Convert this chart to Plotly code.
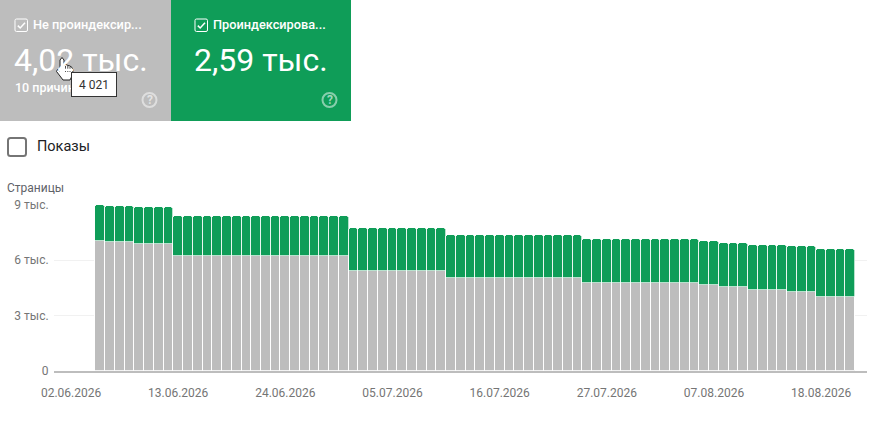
import plotly.graph_objects as go

W = 886
H = 423

days = [
    "2026-06-05", "2026-06-06", "2026-06-07", "2026-06-08", "2026-06-09", "2026-06-10", "2026-06-11",
    "2026-06-12", "2026-06-13", "2026-06-14", "2026-06-15", "2026-06-16", "2026-06-17", "2026-06-18",
    "2026-06-19", "2026-06-20", "2026-06-21", "2026-06-22", "2026-06-23", "2026-06-24", "2026-06-25",
    "2026-06-26", "2026-06-27", "2026-06-28", "2026-06-29", "2026-06-30", "2026-07-01", "2026-07-02",
    "2026-07-03", "2026-07-04", "2026-07-05", "2026-07-06", "2026-07-07", "2026-07-08", "2026-07-09",
    "2026-07-10", "2026-07-11", "2026-07-12", "2026-07-13", "2026-07-14", "2026-07-15", "2026-07-16",
    "2026-07-17", "2026-07-18", "2026-07-19", "2026-07-20", "2026-07-21", "2026-07-22", "2026-07-23",
    "2026-07-24", "2026-07-25", "2026-07-26", "2026-07-27", "2026-07-28", "2026-07-29", "2026-07-30",
    "2026-07-31", "2026-08-01", "2026-08-02", "2026-08-03", "2026-08-04", "2026-08-05", "2026-08-06",
    "2026-08-07", "2026-08-08", "2026-08-09", "2026-08-10", "2026-08-11", "2026-08-12", "2026-08-13",
    "2026-08-14", "2026-08-15", "2026-08-16", "2026-08-17", "2026-08-18", "2026-08-19", "2026-08-20",
    "2026-08-21",
]
not_indexed = [
    7030, 6970, 6970, 6970, 6870, 6870, 6870, 6870,
    6230, 6230, 6230, 6230, 6230, 6230, 6230, 6230, 6230,
    6230, 6230, 6230, 6230, 6230, 6230, 6230, 6230, 6230,
    5400, 5400, 5400, 5400, 5400, 5400, 5400, 5400, 5400, 5400,
    5020, 5020, 5020, 5020, 5020, 5020, 5020, 5020, 5020, 5020, 5020, 5020, 5020, 5020,
    4750, 4750, 4750, 4750, 4750, 4750, 4750, 4750, 4750, 4750, 4750, 4750,
    4640, 4640, 4530, 4530, 4530, 4370, 4370, 4370, 4370,
    4260, 4260, 4260, 4021, 4021, 4021, 4021,
]
indexed = [
    1950, 1970, 1970, 1970, 2020, 2020, 2020, 2020,
    2170, 2170, 2170, 2170, 2170, 2170, 2170, 2170, 2170,
    2170, 2170, 2170, 2170, 2170, 2170, 2170, 2170, 2170,
    2350, 2350, 2350, 2350, 2350, 2350, 2350, 2350, 2350, 2350,
    2350, 2350, 2350, 2350, 2350, 2350, 2350, 2350, 2350, 2350, 2350, 2350, 2350, 2350,
    2400, 2400, 2400, 2400, 2400, 2400, 2400, 2400, 2400, 2400, 2400, 2400,
    2410, 2410, 2410, 2410, 2410, 2460, 2460, 2460, 2460,
    2510, 2510, 2510, 2590, 2590, 2590, 2590,
]
y_ticks = [0, 3000, 6000, 9000]
y_labels = ["0", "3 тыс.", "6 тыс.", "9 тыс."]

GREY = "#bdbdbd"
GREEN = "#0f9d58"
FONT = "Roboto"


def px(x):
    return x / W


def py(y):
    return 1 - y / H


def rect(x0, y0, x1, y1, **kw):
    return dict(type="rect", xref="paper", yref="paper",
                x0=px(x0), x1=px(x1), y0=py(y0), y1=py(y1), **kw)


def path(points, **kw):
    d = "M" + " L".join(f"{px(x):.5f},{py(y):.5f}" for x, y in points)
    return dict(type="path", xref="paper", yref="paper", path=d, **kw)


def rounded(x0, y0, x1, y1, r, **kw):
    def p(x, y):
        return f"{px(x):.5f},{py(y):.5f}"

    d = (f"M{p(x0 + r, y0)} L{p(x1 - r, y0)} Q{p(x1, y0)} {p(x1, y0 + r)} "
         f"L{p(x1, y1 - r)} Q{p(x1, y1)} {p(x1 - r, y1)} "
         f"L{p(x0 + r, y1)} Q{p(x0, y1)} {p(x0, y1 - r)} "
         f"L{p(x0, y0 + r)} Q{p(x0, y0)} {p(x0 + r, y0)} Z")
    return dict(type="path", xref="paper", yref="paper", path=d, **kw)


def label(x, y, text, size, color="white", anchor="left", **font):
    return dict(x=px(x), y=py(y), xref="paper", yref="paper", text=text, showarrow=False,
                xanchor=anchor, yanchor="middle", borderpad=0,
                font=dict(family=FONT, size=size, color=color, **font))


def checkbox(x, y):
    box = rounded(x, y, x + 12.5, y + 12.5, 1.5, line=dict(color="white", width=1),
                  fillcolor="rgba(0,0,0,0)")
    tick = path([(x + 2.8, y + 6.6), (x + 5.2, y + 9), (x + 10, y + 3.8)],
                line=dict(color="white", width=1.5))
    return [box, tick]


def help_icon(x, y):
    return dict(type="circle", xref="paper", yref="paper",
                x0=px(x - 7), x1=px(x + 7), y0=py(y + 7), y1=py(y - 7),
                line=dict(color="rgba(255,255,255,0.5)", width=2))


fig = go.Figure()
fig.add_trace(go.Bar(x=days, y=not_indexed, name="Не проиндексированы",
                     marker=dict(color=GREY, line=dict(color="white", width=1))))
fig.add_trace(go.Bar(x=days, y=indexed, name="Проиндексированы",
                     marker=dict(color=GREEN, line=dict(color="white", width=0.7))))

# hand cursor outline, sits over the first card
hand = [(60, 60), (62, 57.5), (64, 60), (64, 65), (66, 64.5), (68, 65.5), (70, 66), (72, 67.5),
        (73, 70), (72.5, 75), (70, 80), (63, 80), (60, 76), (56.5, 71.5), (57.5, 69.5), (60, 71)]
fingers = [[(65.5, 66), (65.5, 72)], [(67.8, 66), (67.8, 72)], [(70, 67), (70, 72)]]

shapes = [
    rect(0, 0, 171, 121, fillcolor=GREY, line_width=0),
    rect(171, 0, 351, 121, fillcolor=GREEN, line_width=0),
    *checkbox(15, 19),
    *checkbox(195, 19),
    help_icon(149.5, 100),
    help_icon(329.5, 100),
    rounded(8, 138, 26, 156, 2.5, line=dict(color="#757575", width=2), fillcolor="white"),
    path(hand + hand[:1], line=dict(color="#222222", width=1), fillcolor="white"),
    *[path(f, line=dict(color="#222222", width=0.8)) for f in fingers],
]

annotations = [
    label(32.2, 25, "Не проиндексир...", 12.75, weight=500),
    label(212.2, 25, "Проиндексирова...", 12.75, weight=500),
    label(13, 60, "4,02 тыс.", 32),
    label(193, 60, "2,59 тыс.", 32),
    label(14, 88, "10 причин", 12.5, weight=500),
    label(149.5, 100, "?", 12, color="rgba(255,255,255,0.6)", weight=700, anchor="center"),
    label(329.5, 100, "?", 12, color="rgba(255,255,255,0.6)", weight=700, anchor="center"),
    label(36, 147, "Показы", 14.5, color="#202124"),
    label(6, 188, "Страницы", 12, color="#5f6368"),
    dict(x=px(94), y=py(84.5), xref="paper", yref="paper", text="4 021", showarrow=False,
         xanchor="center", yanchor="middle", width=44, height=23, align="center", valign="middle",
         bgcolor="white", bordercolor="#333333", borderwidth=1, borderpad=0,
         font=dict(family=FONT, size=12, color="#333333")),
]

fig.update_layout(
    width=W,
    height=H,
    margin=dict(l=0, r=0, t=0, b=0, autoexpand=False),
    paper_bgcolor="white",
    plot_bgcolor="white",
    barmode="stack",
    bargap=0,
    barcornerradius=3,
    showlegend=False,
    shapes=shapes,
    annotations=annotations,
    font=dict(family=FONT),
    xaxis=dict(
        domain=[px(54), px(867)],
        range=["2026-05-31 06:00", "2026-08-22 17:00"],
        type="date",
        tick0="2026-06-02",
        dtick=86400000 * 11,
        tickformat="%d.%m.%Y",
        showgrid=False,
        ticks="outside",
        ticklen=10,
        tickcolor="rgba(0,0,0,0)",
        tickfont=dict(size=12, color="#757575"),
        showline=True,
        linecolor="#bdbdbd",
        linewidth=2,
        zeroline=False,
    ),
    yaxis=dict(
        domain=[py(370.7), py(205)],
        range=[0, 9000],
        tickvals=y_ticks,
        ticktext=y_labels,
        showgrid=True,
        gridcolor="#f1f1f1",
        gridwidth=1,
        zeroline=False,
        ticks="outside",
        ticklen=2,
        tickcolor="rgba(0,0,0,0)",
        tickfont=dict(size=12, color="#757575"),
    ),
)

fig.write_html("out.html", config=dict(displayModeBar=False),
               post_script="document.body.style.margin='0';document.body.style.overflow='hidden';")
